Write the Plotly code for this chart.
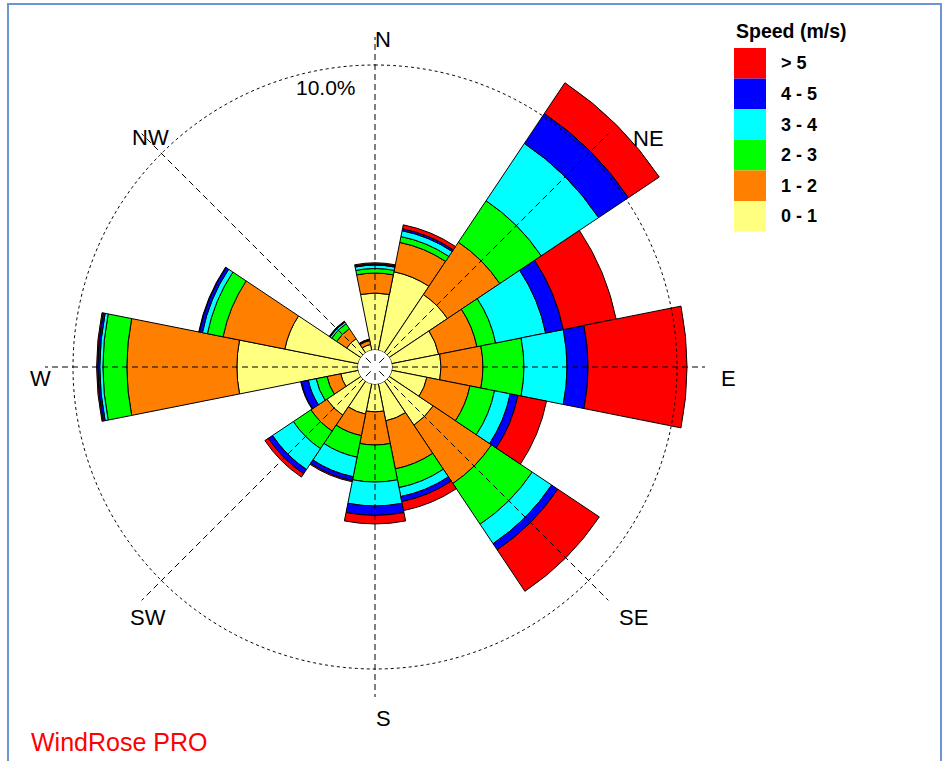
import numpy as np
import plotly.graph_objects as go

# ---------------- data ----------------
DIRECTIONS = ["N", "NNE", "NE", "ENE", "E", "ESE", "SE", "SSE",
              "S", "SSW", "SW", "WSW", "W", "WNW", "NW", "NNW"]
DIR_ANGLES = [0, 22.5, 45, 67.5, 90, 112.5, 135, 157.5,
              180, 202.5, 225, 247.5, 270, 292.5, 315, 337.5]

SPEED_BINS = ["0 - 1", "1 - 2", "2 - 3", "3 - 4", "4 - 5", "> 5"]
BIN_COLORS = ["#FFFF80", "#FF8000", "#00FF00", "#00FFFF", "#0000FF", "#FF0000"]

# frequency (%) per direction, one list per speed class
freq_0_1 = [2.00, 2.81, 2.46, 1.68, 1.72, 1.26, 1.86, 1.33, 0.98, 1.09, 1.44, 0.63, 4.25, 2.63, 0.60, 0.21]
freq_1_2 = [0.70, 1.05, 2.21, 1.37, 1.47, 1.54, 2.46, 1.72, 1.16, 0.77, 0.67, 0.49, 3.86, 2.21, 0.42, 0.14]
freq_2_3 = [0.16, 0.21, 1.75, 0.67, 1.44, 0.88, 1.72, 0.67, 1.30, 0.77, 0.74, 0.39, 0.84, 0.56, 0.21, 0.02]
freq_3_4 = [0.12, 0.21, 2.42, 1.79, 1.51, 0.56, 0.82, 0.32, 0.84, 0.70, 0.88, 0.28, 0.11, 0.18, 0.07, 0.02]
freq_4_5 = [0.04, 0.07, 1.26, 0.63, 0.74, 0.28, 0.26, 0.18, 0.33, 0.14, 0.18, 0.25, 0.07, 0.11, 0.02, 0.00]
freq_5p = [0.04, 0.14, 1.30, 1.89, 3.47, 1.02, 1.75, 0.32, 0.30, 0.04, 0.14, 0.02, 0.04, 0.02, 0.02, 0.01]
SERIES = [freq_0_1, freq_1_2, freq_2_3, freq_3_4, freq_4_5, freq_5p]

COMPASS = ["N", "NE", "E", "SE", "S", "SW", "W", "NW"]
COMPASS_ANGLES = [0, 45, 90, 135, 180, 225, 270, 315]
RING_VALUE = 10.0
RING_LABEL = "10.0%"

# ---------------- layout helpers ----------------
W, H = 945, 761
CX, CY = 375, 367          # centre of rose (px)
R_OUT = 355                # radius of polar domain (px)
R_CALM = 17                # calm circle radius (px)
R_RING = 302               # radius of the 10 % ring (px)
RMAX = RING_VALUE * (R_OUT - R_CALM) / (R_RING - R_CALM)
FONT = "Liberation Sans, Arial, sans-serif"


def px(x):
    return x / W


def py(y):
    return 1 - y / H


fig = go.Figure()

for name, vals, col in zip(SPEED_BINS, SERIES, BIN_COLORS):
    fig.add_trace(go.Barpolar(
        r=vals, theta=DIR_ANGLES, width=[22.5] * len(DIR_ANGLES), name=name,
        marker=dict(color=col, line=dict(color="black", width=1)),
        showlegend=False,
    ))

# dashed compass spokes
spoke_r = (330 - R_CALM) / (R_OUT - R_CALM) * RMAX
for a in COMPASS_ANGLES:
    fig.add_trace(go.Scatterpolar(
        r=[0, spoke_r], theta=[a, a], mode="lines",
        line=dict(color="black", width=1, dash="6px,4px"),
        showlegend=False, hoverinfo="skip",
    ))

# dotted 10 % ring
ring_theta = np.linspace(0, 360, 721)
fig.add_trace(go.Scatterpolar(
    r=[RING_VALUE] * len(ring_theta), theta=ring_theta, mode="lines",
    line=dict(color="black", width=1, dash="3px,3px"),
    showlegend=False, hoverinfo="skip",
))

fig.update_layout(
    width=W, height=H,
    margin=dict(l=0, r=0, t=0, b=0),
    paper_bgcolor="white",
    font=dict(family=FONT, color="black"),
    polar=dict(
        domain=dict(x=[px(CX - R_OUT), px(CX + R_OUT)],
                    y=[py(CY + R_OUT), py(CY - R_OUT)]),
        hole=R_CALM / R_OUT,
        bgcolor="rgba(0,0,0,0)",
        barmode="stack",
        radialaxis=dict(range=[0, RMAX], visible=False),
        angularaxis=dict(rotation=90, direction="clockwise",
                         showgrid=False, showline=False,
                         showticklabels=False, ticks=""),
    ),
)

annotations = []
shapes = []
label_pos = {"N": (383, 40), "NE": (648, 138), "E": (728, 378), "SE": (633, 617),
             "S": (383, 718), "SW": (148, 617), "W": (40, 378), "NW": (150, 137)}
for lab in COMPASS:
    x, y = label_pos[lab]
    annotations.append(dict(x=px(x), y=py(y), xref="paper", yref="paper",
                            text=lab, showarrow=False,
                            font=dict(size=22, family=FONT, color="black"),
                            xanchor="center", yanchor="middle"))
annotations.append(dict(x=px(326), y=py(88), xref="paper", yref="paper",
                        text=RING_LABEL, showarrow=False,
                        font=dict(size=21, family=FONT, color="black"),
                        xanchor="center", yanchor="middle"))
annotations.append(dict(x=px(29), y=py(742), xref="paper", yref="paper",
                        text="WindRose PRO", showarrow=False,
                        font=dict(size=25, family=FONT, color="#FF0000"),
                        xanchor="left", yanchor="middle"))

# short spoke dashes inside the calm circle
for a in COMPASS_ANGLES:
    s, c = np.sin(np.radians(a)), np.cos(np.radians(a))
    shapes.append(dict(type="line", xref="paper", yref="paper",
                       x0=px(CX + 6 * s), y0=py(CY - 6 * c),
                       x1=px(CX + 13 * s), y1=py(CY - 13 * c),
                       line=dict(color="black", width=1)))

# custom legend (largest class on top)
annotations.append(dict(x=px(734), y=py(31), xref="paper", yref="paper",
                        text="<b>Speed (m/s)</b>", showarrow=False,
                        font=dict(size=19.5, family=FONT, color="black"),
                        xanchor="left", yanchor="middle"))
box_top, box_h = 48, 30.6
for i, (name, col) in enumerate(zip(SPEED_BINS[::-1], BIN_COLORS[::-1])):
    y0 = box_top + i * box_h
    shapes.append(dict(type="rect", xref="paper", yref="paper",
                       x0=px(734), x1=px(766), y0=py(y0), y1=py(y0 + box_h),
                       fillcolor=col, line=dict(width=0)))
    annotations.append(dict(x=px(779), y=py(y0 + box_h / 2), xref="paper", yref="paper",
                            text="<b>" + name + "</b>", showarrow=False,
                            font=dict(size=18, family=FONT, color="black"),
                            xanchor="left", yanchor="middle"))

# window frame
shapes.append(dict(type="rect", xref="paper", yref="paper",
                   x0=px(8), x1=px(941), y0=py(775), y1=py(4),
                   line=dict(color="#6B96D0", width=2), fillcolor="rgba(0,0,0,0)"))

fig.update_layout(annotations=annotations, shapes=shapes)
fig.write_html("out.html",
               config={"displayModeBar": False},
               post_script="document.body.style.margin='0px';"
                           "document.body.style.overflow='hidden';")
